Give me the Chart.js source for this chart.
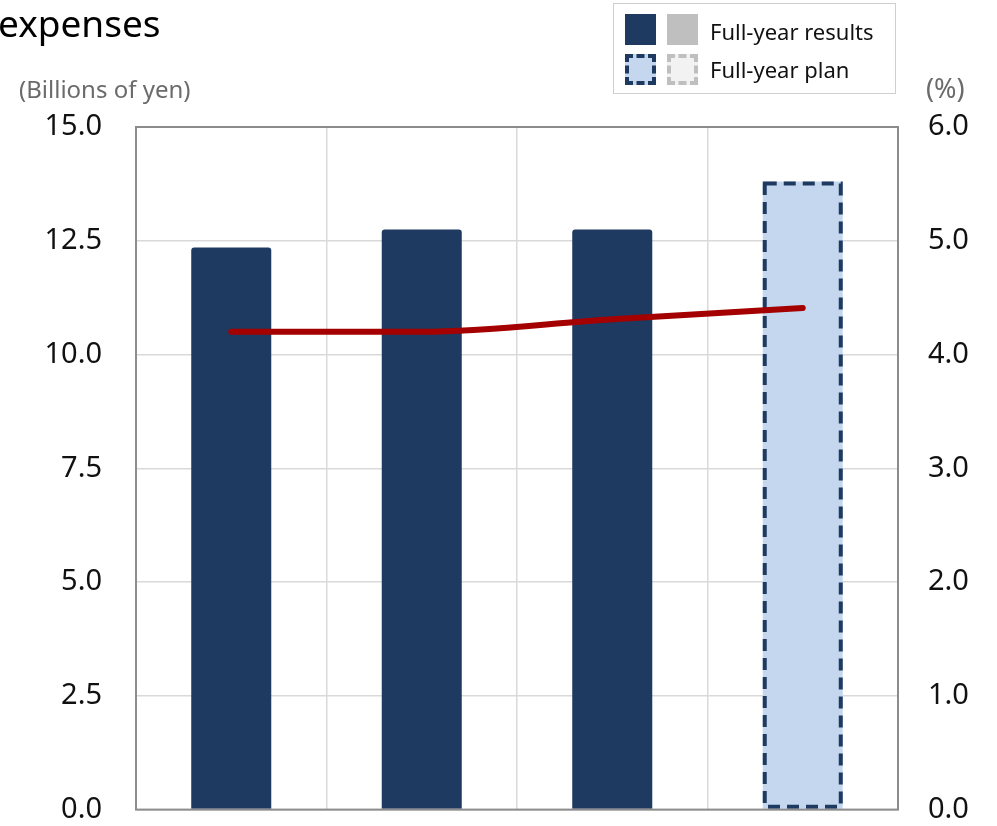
<!DOCTYPE html>
<html>
<head>
<meta charset="utf-8">
<script src="https://cdn.jsdelivr.net/npm/chart.js@4/dist/chart.umd.min.js"></script>
<style>
  body { margin: 0; background: #fff; font-family: "Noto Sans", sans-serif; }
  #wrap { position: relative; width: 997px; height: 826px; overflow: hidden; }
  #c { position: absolute; left: 0; top: 0; }
  #title { position: absolute; left: -2px; top: -3px; font-size: 37px; color: #000; }
  .unit { position: absolute; top: 72px; font-size: 24px; color: #6b6b6b; }
  #legend { position: absolute; left: 613px; top: 3px; width: 281px; height: 89px;
            border: 1px solid #cfcfcf; background: #fff; }
  .sw { position: absolute; width: 31px; height: 31px; box-sizing: border-box; }
  .lt { position: absolute; left: 96px; font-size: 22px; color: #111; }
</style>
</head>
<body>
<div id="wrap">
  <canvas id="c" width="997" height="861"></canvas>
  <div id="title">expenses</div>
  <div class="unit" style="left:19px">(Billions of yen)</div>
  <div class="unit" style="left:926px;font-size:27px;top:69px">(%)</div>
  <div id="legend">
    <div class="sw" style="left:11px;top:10px;background:#1f3a60"></div>
    <div class="sw" style="left:53px;top:10px;background:#bfbfbf"></div>
    <div class="lt" style="top:12px">Full-year results</div>
    <div class="sw" style="left:11px;top:50px;background:#c5d7ee;border:4px dashed #1f3a60"></div>
    <div class="sw" style="left:53px;top:50px;background:#f2f2f2;border:4px dashed #bfbfbf"></div>
    <div class="lt" style="top:50px">Full-year plan</div>
  </div>
</div>
<script>
// values
var years = ["FY1", "FY2", "FY3", "FY4 plan"]
var expenses = [12.35, 12.75, 12.75, 13.8]
var ratio = [4.2, 4.2, 4.31, 4.41]
var planIndex = 3

var dark = "#1f3a60"
var light = "#c5d7ee"

// plan bar gets a dashed outline, bar element has no borderDash
var dashedPlan = {
    id: 'dashedPlan',
    afterDatasetDraw: function (chart, args) {
        if (args.index !== 0) return;
        var el = chart.getDatasetMeta(0).data[planIndex];
        var p = el.getProps(['x', 'y', 'base', 'width'], true);
        var ctx = chart.ctx;
        ctx.save();
        ctx.strokeStyle = dark;
        ctx.lineWidth = 4;
        ctx.setLineDash([12, 7]);
        ctx.strokeRect(p.x - p.width / 2 + 2, p.y + 2, p.width - 4, p.base - p.y - 4);
        ctx.restore();
    }
};

var frame = {
    id: 'frame',
    afterDraw: function (chart) {
        var a = chart.chartArea, ctx = chart.ctx;
        ctx.save();
        ctx.strokeStyle = "#8c8c8c";
        ctx.lineWidth = 2;
        ctx.strokeRect(a.left, a.top, a.right - a.left, a.bottom - a.top);
        ctx.restore();
    }
};

var ctx = document.getElementById("c").getContext("2d");
var myChart = new Chart(ctx, {
    data: {
        labels: years,
        datasets: [{
            type: 'bar',
            data: expenses,
            backgroundColor: expenses.map(function (v, i) { return i === planIndex ? light : dark }),
            borderWidth: 0,
            borderRadius: 3,
            borderSkipped: 'bottom',
            barPercentage: 0.84,
            categoryPercentage: 0.5,
            yAxisID: 'y',
            order: 1
        }, {
            type: 'line',
            data: ratio,
            borderColor: "#a40000",
            borderWidth: 6,
            borderCapStyle: 'round',
            pointRadius: 0,
            cubicInterpolationMode: 'monotone',
            yAxisID: 'y2',
            order: 0
        }]
    },
    options: {
        responsive: false,
        animation: false,
        layout: { padding: { top: 127, bottom: 18, left: 0, right: 0 } },
        plugins: { legend: { display: false }, tooltip: { enabled: false } },
        scales: {
            x: {
                offset: true,
                ticks: { display: false },
                grid: { color: "#d9d9d9", lineWidth: 1.5, drawTicks: false, offset: true },
                border: { display: false },
                afterFit: function (s) { s.height = 0 }
            },
            y: {
                position: 'left',
                min: 0, max: 15,
                ticks: { stepSize: 2.5, color: "#111", font: { family: "Noto Sans", size: 29 },
                         padding: 34, callback: function (v) { return v.toFixed(1) } },
                grid: { color: "#d9d9d9", lineWidth: 1.5, drawTicks: false },
                border: { display: false },
                afterFit: function (s) { s.width = 136 }
            },
            y2: {
                position: 'right',
                min: 0, max: 6,
                ticks: { stepSize: 1, color: "#111", font: { family: "Noto Sans", size: 29 },
                         padding: 30, callback: function (v) { return v.toFixed(1) } },
                grid: { drawOnChartArea: false, drawTicks: false },
                border: { display: false },
                afterFit: function (s) { s.width = 99 }
            }
        }
    },
    plugins: [dashedPlan, frame]
});
</script>
</body>
</html>
